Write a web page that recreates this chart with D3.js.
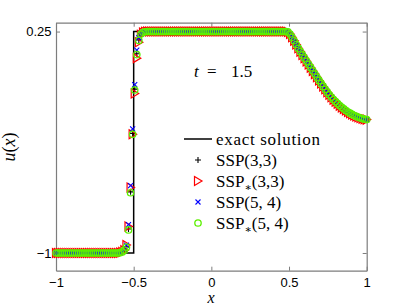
<!DOCTYPE html>
<html>
<head>
<meta charset="utf-8">
<script src="https://cdn.jsdelivr.net/npm/d3@7"></script>
<style>
body { margin: 0; background: #fff; }
svg { display: block; }
.serif { font-family: "Liberation Serif", "DejaVu Serif", serif; }
</style>
</head>
<body>
<svg width="405" height="305"></svg>
<script>
'use strict';

// axis ticks
const xTicks = [-1, -0.5, 0, 0.5, 1];
const yTicks = [-1, 0.25];

// u on the mesh, left of the shock (i = 0..33)
const uLeft = [
  -1, -1, -1, -1, -1, -1, -1, -1, -1, -1,
  -1, -1, -1, -1, -1, -1, -1, -1, -1, -1,
  -1, -1, -1, -1, -1, -1, -1, -1, -1, -1,
  -1, -0.998, -0.994, -0.984
];

// shock region (i = 34..43), differs a bit per scheme
const shockSSP33  = [-0.965, -0.865, -0.655, -0.325, -0.075, 0.125, 0.203, 0.237, 0.246, 0.249];
const shockSSPs33 = [-0.955, -0.85, -0.63, -0.33, -0.1, 0.1, 0.19, 0.232, 0.245, 0.249];
const shockSSP54  = [-0.955, -0.84, -0.62, -0.3, -0.05, 0.145, 0.215, 0.24, 0.247, 0.249];
const shockSSPs54 = [-0.967, -0.87, -0.66, -0.33, -0.08, 0.12, 0.2, 0.236, 0.246, 0.249];

// plateau (i = 44..111)
const uPlateau = [
  0.25, 0.25, 0.25, 0.25, 0.25, 0.25, 0.25, 0.25, 0.25, 0.25, 0.25, 0.25, 0.25, 0.25, 0.25, 0.25, 0.25,
  0.25, 0.25, 0.25, 0.25, 0.25, 0.25, 0.25, 0.25, 0.25, 0.25, 0.25, 0.25, 0.25, 0.25, 0.25, 0.25, 0.25,
  0.25, 0.25, 0.25, 0.25, 0.25, 0.25, 0.25, 0.25, 0.25, 0.25, 0.25, 0.25, 0.25, 0.25, 0.25, 0.25, 0.25,
  0.25, 0.25, 0.25, 0.25, 0.25, 0.25, 0.25, 0.25, 0.25, 0.25, 0.25, 0.25, 0.25, 0.25, 0.25, 0.25, 0.25
];

// smooth tail (i = 112..150)
const uTail = [
  0.248, 0.236, 0.218, 0.198, 0.177, 0.156, 0.137, 0.118, 0.100, 0.082,
  0.064, 0.046, 0.028, 0.010, -0.008, -0.026, -0.043, -0.060, -0.076, -0.092,
  -0.107, -0.121, -0.134, -0.146, -0.157, -0.168, -0.178, -0.187, -0.196, -0.204,
  -0.211, -0.218, -0.224, -0.229, -0.234, -0.238, -0.242, -0.245, -0.247
];

// exact solution corners (tail follows the smooth part)
const exactX = [-1, -0.5, -0.5, 0.49];
const exactU = [-1, -1, 0.25, 0.25];

const legendNames = ["SSP(3,3)", "SSP*(3,3)", "SSP(5, 4)", "SSP*(5, 4)"];

let svg = d3.select("svg");

let x = d3.scaleLinear().domain([-1, 1]).range([56, 366.7]);
let y = d3.scaleLinear().domain([-1.1, 0.3]).range([270.7, 22.7]);

const axisColor = "#7d7d7d";

function styleAxis(g) {
  g.select(".domain").attr("stroke", axisColor).attr("stroke-width", 1.2);
  g.selectAll(".tick line").attr("stroke", axisColor).attr("stroke-width", 1);
  g.selectAll(".tick text")
    .attr("fill", "#000")
    .attr("font-family", "Liberation Sans, Arial, sans-serif")
    .attr("font-size", 13);
}

const fmt = d => d3.format("")(d).replace("-", "\u2212");

svg.append("g")
  .attr("transform", `translate(0,${y.range()[0]})`)
  .call(d3.axisBottom(x).tickValues(xTicks).tickFormat(fmt)
    .tickSizeInner(-4).tickSizeOuter(0).tickPadding(7))
  .call(styleAxis);

svg.append("g")
  .attr("transform", `translate(${x.range()[0]},0)`)
  .call(d3.axisLeft(y).tickValues(yTicks).tickFormat(fmt)
    .tickSizeInner(-4).tickSizeOuter(0).tickPadding(4.5))
  .call(styleAxis);

svg.append("g")
  .attr("transform", `translate(0,${y.range()[1]})`)
  .call(d3.axisTop(x).tickValues(xTicks).tickFormat("")
    .tickSizeInner(-4).tickSizeOuter(0))
  .call(styleAxis);

svg.append("g")
  .attr("transform", `translate(${x.range()[1]},0)`)
  .call(d3.axisRight(y).tickValues(yTicks).tickFormat("")
    .tickSizeInner(-4).tickSizeOuter(0))
  .call(styleAxis);

// mesh and series
let profile = shock => uLeft.concat(shock, uPlateau, uTail);
let nPts = uLeft.length + shockSSP33.length + uPlateau.length + uTail.length;
let xGrid = d3.range(nPts).map(i => -1 + 2 * i / (nPts - 1));

let series = [
  { u: profile(shockSSP33), kind: "plus", color: "#000000" },
  { u: profile(shockSSPs33), kind: "tri", color: "#ff0000" },
  { u: profile(shockSSP54), kind: "cross", color: "#0000ff" },
  { u: profile(shockSSPs54), kind: "circle", color: "#5cf000" }
];

// exact solution
let tailStart = nPts - uTail.length;
let exactPts = exactX.map((d, i) => [d, exactU[i]])
  .concat(uTail.slice(1).map((u, i) => [xGrid[tailStart + 1 + i], u]));

svg.append("path")
  .datum(exactPts)
  .attr("fill", "none")
  .attr("stroke", "#000")
  .attr("stroke-width", 1.5)
  .attr("d", d3.line().x(d => x(d[0])).y(d => y(d[1])));

const markerPath = {
  plus: "M-3,0H3M0,-3V3",
  cross: "M-2.5,-2.5L2.5,2.5M-2.5,2.5L2.5,-2.5",
  tri: "M-3.5,-4.5L4,0L-3.5,4.5Z"
};

function drawMarker(sel, kind, color) {
  if (kind === "circle") {
    sel.append("circle")
      .attr("r", 3.2)
      .attr("fill", "none")
      .attr("stroke", color)
      .attr("stroke-width", 1.3);
  } else {
    sel.append("path")
      .attr("d", markerPath[kind])
      .attr("fill", "none")
      .attr("stroke", color)
      .attr("stroke-width", kind === "tri" ? 1.2 : 1.1);
  }
}

series.forEach(s => {
  svg.append("g")
    .selectAll("g")
    .data(s.u)
    .join("g")
      .attr("transform", (d, i) => `translate(${x(xGrid[i])},${y(d)})`)
      .each(function() { drawMarker(d3.select(this), s.kind, s.color); });
});

// labels
svg.append("text")
  .attr("class", "serif")
  .attr("x", 211).attr("y", 302.5)
  .attr("text-anchor", "middle")
  .attr("font-style", "italic")
  .attr("font-size", 16)
  .text("x");

let ylab = svg.append("text")
  .attr("class", "serif")
  .attr("transform", "translate(15,147) rotate(-90)")
  .attr("text-anchor", "middle")
  .attr("font-size", 18);
ylab.append("tspan").attr("font-style", "italic").text("u");
ylab.append("tspan").text("(");
ylab.append("tspan").attr("font-style", "italic").text("x");
ylab.append("tspan").text(")");

let tlab = svg.append("text")
  .attr("class", "serif")
  .attr("y", 77)
  .attr("font-size", 17);
tlab.append("tspan").attr("x", 194).attr("font-style", "italic").text("t");
tlab.append("tspan").attr("x", 207).text("=");
tlab.append("tspan").attr("x", 231).text("1.5");

// legend
const rowY = [139, 160, 181, 202, 223];
let legend = svg.append("g")
  .attr("class", "serif")
  .attr("font-size", 17);

legend.append("line")
  .attr("x1", 184).attr("x2", 212)
  .attr("y1", rowY[0]).attr("y2", rowY[0])
  .attr("stroke", "#000").attr("stroke-width", 1.5);
legend.append("text")
  .attr("x", 216).attr("y", rowY[0] + 5.5)
  .attr("textLength", 104)
  .text("exact solution");

series.forEach((s, i) => {
  let ry = rowY[i + 1];
  let m = legend.append("g").attr("transform", `translate(198,${ry})`);
  drawMarker(m, s.kind, s.color);
  let t = legend.append("text").attr("x", 216).attr("y", ry + 5.5);
  let name = legendNames[i];
  if (name.startsWith("SSP*")) {
    t.append("tspan").text("SSP");
    t.append("tspan").attr("font-size", 11).attr("dy", 4).text("\u2217");
    t.append("tspan").attr("dy", -4).text(name.slice(4));
  } else {
    t.text(name);
  }
});
</script>
</body>
</html>
